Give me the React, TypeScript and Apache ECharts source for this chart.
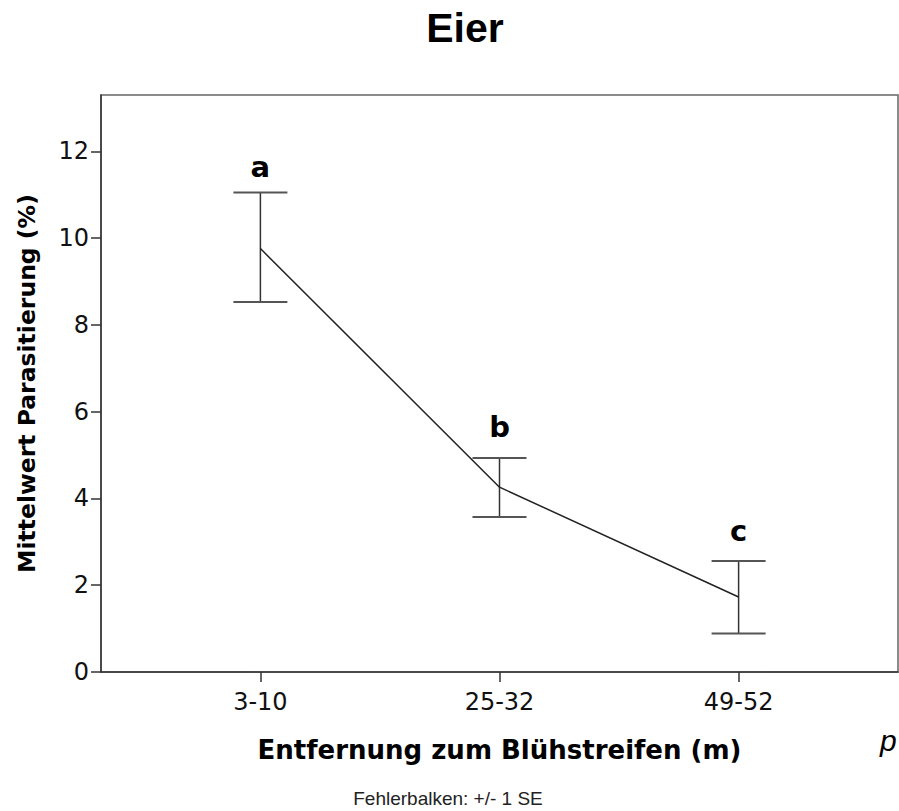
import React, { useEffect, useRef } from 'react';
import * as echarts from 'echarts';

const categories = ['3-10', '25-32', '49-52'];
const means = [9.76, 4.26, 1.73];
const upper = [11.05, 4.93, 2.56];
const lower = [8.53, 3.57, 0.89];
const letters = ['a', 'b', 'c'];
const letterY = [11.63, 5.65, 3.24];
const yTicks = [0, 2, 4, 6, 8, 10, 12];
const xTicks = [0, 1, 2];

export default function App() {
  const ref = useRef<HTMLDivElement>(null);
  useEffect(() => {
    const chart = echarts.init(ref.current!, null, { renderer: 'svg' });
    const option: any = {
      animation: false,
      backgroundColor: '#fff',
      grid: {
        left: 101, right: 1, top: 95, bottom: 139,
        show: true, borderColor: '#666', borderWidth: 1.5, backgroundColor: 'transparent',
      },
      xAxis: {
        type: 'value', min: -2 / 3, max: 8 / 3,
        axisLine: { onZero: false, lineStyle: { color: '#333', width: 1.5 } },
        axisTick: { customValues: xTicks, length: 10, lineStyle: { color: '#333', width: 1.5 } },
        axisLabel: {
          customValues: xTicks,
          formatter: (v: number) => categories[Math.round(v)],
          fontFamily: 'DejaVu Sans', fontSize: 24, color: '#111', margin: 18,
        },
        splitLine: { show: false },
        name: 'Entfernung zum Blühstreifen (m)',
        nameLocation: 'middle', nameGap: 65,
        nameTextStyle: { fontFamily: 'DejaVu Sans', fontWeight: 'bold', fontSize: 26, color: '#000' },
      },
      yAxis: {
        type: 'value', min: 0, max: 13.3,
        axisLine: { show: true, onZero: false, lineStyle: { color: '#333', width: 1.5 } },
        axisTick: { show: true, customValues: yTicks, length: 10, lineStyle: { color: '#333', width: 1.5 } },
        axisLabel: {
          customValues: yTicks,
          fontFamily: 'DejaVu Sans', fontSize: 24, color: '#111', margin: 12,
        },
        splitLine: { show: false },
        name: 'Mittelwert Parasitierung (%)',
        nameLocation: 'middle', nameGap: 62,
        nameTextStyle: { fontFamily: 'DejaVu Sans', fontWeight: 'bold', fontSize: 23.5, color: '#000' },
      },
      series: [
        {
          type: 'line',
          data: categories.map((_, i) => [i, means[i]]),
          symbol: 'none',
          lineStyle: { color: '#222', width: 1.5 },
          z: 3,
        },
        {
          type: 'custom',
          data: categories.map((_, i) => [i, lower[i], upper[i]]),
          encode: { x: 0, y: [1, 2] },
          renderItem: (params: any, api: any) => {
            const x = api.value(0);
            const pHi = api.coord([x, api.value(2)]);
            const pLo = api.coord([x, api.value(1)]);
            const w = 27;
            return {
              type: 'group',
              children: [
                { type: 'line', shape: { x1: pHi[0], y1: pHi[1], x2: pLo[0], y2: pLo[1] }, style: { stroke: '#333', lineWidth: 1.5 } },
                { type: 'line', shape: { x1: pHi[0] - w, y1: pHi[1], x2: pHi[0] + w, y2: pHi[1] }, style: { stroke: '#555', lineWidth: 2 } },
                { type: 'line', shape: { x1: pLo[0] - w, y1: pLo[1], x2: pLo[0] + w, y2: pLo[1] }, style: { stroke: '#555', lineWidth: 2 } },
              ],
            };
          },
          z: 2,
        },
        {
          type: 'custom',
          data: categories.map((_, i) => [i, letterY[i]]),
          renderItem: (params: any, api: any) => {
            const p = api.coord([api.value(0), api.value(1)]);
            return {
              type: 'text',
              x: p[0], y: p[1],
              style: {
                text: letters[params.dataIndex],
                fontFamily: 'DejaVu Sans', fontWeight: 'bold', fontSize: 29,
                align: 'center', verticalAlign: 'middle', fill: '#000',
              },
            };
          },
          z: 4,
        },
      ],
      graphic: [
        {
          type: 'text', x: 465, y: 28,
          style: {
            text: 'Eier', fontFamily: 'Liberation Sans', fontWeight: 'bold', fontSize: 41,
            align: 'center', verticalAlign: 'middle', fill: '#000',
          },
        },
        {
          type: 'text', x: 448, y: 798,
          style: {
            text: 'Fehlerbalken: +/- 1 SE', fontFamily: 'Liberation Sans', fontSize: 19,
            align: 'center', verticalAlign: 'middle', fill: '#222',
          },
        },
        {
          type: 'text', x: 880, y: 740,
          style: {
            text: 'p', fontFamily: 'Liberation Sans', fontStyle: 'italic', fontSize: 30,
            align: 'left', verticalAlign: 'middle', fill: '#000',
          },
        },
      ],
    };
    chart.setOption(option);
    return () => chart.dispose();
  }, []);
  return (
    <div
      ref={ref}
      style={{ position: 'absolute', left: 0, top: 0, width: 899, height: 811, background: '#fff' }}
    />
  );
}
